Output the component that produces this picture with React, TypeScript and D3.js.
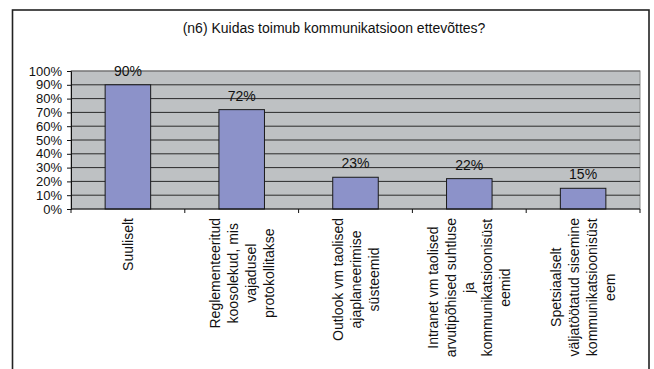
import * as d3 from 'd3';
import React, { useRef, useEffect } from 'react';

const title = '(n6) Kuidas toimub kommunikatsioon ettevõttes?';
const categoryLines: string[][] = [
  ['Suuliselt'],
  ['Reglementeeritud', 'koosolekud, mis', 'vajadusel', 'protokollitakse'],
  ['Outlook vm taolised', 'ajaplaneerimise', 'süsteemid'],
  ['Intranet vm taolised', 'arvutipõhised suhtluse', 'ja', 'kommunikatsioonisüst', 'eemid'],
  ['Spetsiaalselt', 'väljatöötatud sisemine', 'kommunikatsioonisüst', 'eem'],
];
const values = [0.9, 0.72, 0.23, 0.22, 0.15];
const yTicks = [0, 0.1, 0.2, 0.3, 0.4, 0.5, 0.6, 0.7, 0.8, 0.9, 1];

const W = 654;
const H = 369;
const font = 'Liberation Sans, Arial, sans-serif';

export default function App() {
  const svgRef = useRef<SVGSVGElement | null>(null);

  const plot = { left: 71, right: 640, top: 71, bottom: 209 };

  // bar = 40% of each category slot, like an Excel gap width of 150%
  const xScale = d3
    .scaleBand<number>()
    .domain(values.map((_, i) => i))
    .range([plot.left, plot.right])
    .paddingInner(0.6)
    .paddingOuter(0.3);

  const yScale = d3.scaleLinear().domain([0, 1]).range([plot.bottom, plot.top]);

  useEffect(() => {
    const svg = d3.select(svgRef.current);
    svg.selectAll('*').remove();

    // outer frame (runs off the bottom of the picture)
    svg
      .append('rect')
      .attr('x', 12.5)
      .attr('y', 10)
      .attr('width', 636.5)
      .attr('height', 380)
      .attr('fill', '#fff')
      .attr('stroke', '#222')
      .attr('stroke-width', 1.6);

    svg
      .append('text')
      .attr('x', 334)
      .attr('y', 33)
      .attr('text-anchor', 'middle')
      .attr('font-family', font)
      .attr('font-size', 14)
      .attr('fill', '#111')
      .text(title);

    // plot background
    svg
      .append('rect')
      .attr('x', plot.left)
      .attr('y', plot.top)
      .attr('width', plot.right - plot.left)
      .attr('height', plot.bottom - plot.top)
      .attr('fill', '#bec1c3')
      .attr('stroke', '#8a8a8a')
      .attr('stroke-width', 1);

    // gridlines
    svg
      .append('g')
      .selectAll('line')
      .data(yTicks.filter(t => t > 0))
      .join('line')
      .attr('x1', plot.left)
      .attr('x2', plot.right)
      .attr('y1', d => yScale(d))
      .attr('y2', d => yScale(d))
      .attr('stroke', d => (d === 1 ? '#6a6a6a' : '#2a2a2a'))
      .attr('stroke-width', 1);

    // bars
    svg
      .append('g')
      .selectAll('rect')
      .data(values)
      .join('rect')
      .attr('x', (_, i) => xScale(i)!)
      .attr('y', d => yScale(d))
      .attr('width', xScale.bandwidth())
      .attr('height', d => plot.bottom - yScale(d))
      .attr('fill', '#8c92c9')
      .attr('stroke', '#1a1a1a')
      .attr('stroke-width', 1);

    // data labels
    svg
      .append('g')
      .selectAll('text')
      .data(values)
      .join('text')
      .attr('x', (_, i) => xScale(i)! + xScale.bandwidth() / 2)
      .attr('y', d => yScale(d) - 9)
      .attr('text-anchor', 'middle')
      .attr('font-family', font)
      .attr('font-size', 14)
      .attr('fill', '#111')
      .text(d => `${Math.round(d * 100)}%`);

    // y axis
    const yAxis = d3
      .axisLeft(yScale)
      .tickValues(yTicks)
      .tickSize(4)
      .tickPadding(5)
      .tickFormat(d => `${Math.round(+d * 100)}%`);
    const yg = svg.append('g').attr('transform', `translate(${plot.left},0)`).call(yAxis);
    yg.select('.domain').attr('stroke', '#111');
    yg.selectAll('line').attr('stroke', '#111');
    yg.selectAll('text')
      .attr('font-family', font)
      .attr('font-size', 13)
      .attr('fill', '#111');

    // x axis line, ticks on the category boundaries
    const slot = (plot.right - plot.left) / values.length;
    const bounds = d3.range(values.length + 1).map(i => plot.left + i * slot);
    svg
      .append('line')
      .attr('x1', plot.left)
      .attr('x2', plot.right)
      .attr('y1', plot.bottom)
      .attr('y2', plot.bottom)
      .attr('stroke', '#111');
    svg
      .append('g')
      .selectAll('line')
      .data(bounds)
      .join('line')
      .attr('x1', d => d)
      .attr('x2', d => d)
      .attr('y1', plot.bottom)
      .attr('y2', plot.bottom + 4)
      .attr('stroke', '#111');

    // category labels, rotated, lines centred on the longest one
    const lineGap = 18;
    categoryLines.forEach((lines, i) => {
      const cx = xScale(i)! + xScale.bandwidth() / 2;
      const texts = svg
        .append('g')
        .selectAll('text')
        .data(lines)
        .join('text')
        .attr('font-family', font)
        .attr('font-size', 14)
        .attr('fill', '#111')
        .attr('text-anchor', 'middle')
        .attr('dominant-baseline', 'central')
        .text(d => d);
      let maxLen = 0;
      texts.each(function () {
        maxLen = Math.max(maxLen, (this as SVGTextElement).getComputedTextLength());
      });
      const yc = plot.bottom + 9 + maxLen / 2;
      texts.attr('transform', (_, j) => {
        const x = cx + (j - (lines.length - 1) / 2) * lineGap;
        return `translate(${x},${yc}) rotate(-90)`;
      });
    });
  }, []);

  return (
    <svg
      ref={svgRef}
      width={W}
      height={H}
      style={{ position: 'absolute', left: 0, top: 0, background: '#fff' }}
    />
  );
}
